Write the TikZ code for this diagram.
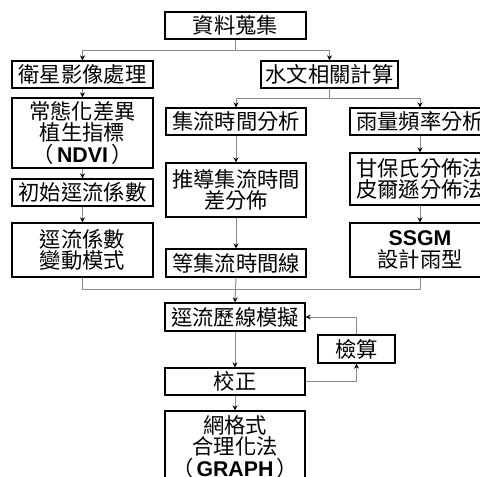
\documentclass[tikz,border=0pt]{standalone}
\usepackage{fontspec}
\setmainfont{Liberation Sans}
\newfontfamily\cjk{Noto Sans CJK TC}
\newfontfamily\latb{Liberation Sans}
\usetikzlibrary{arrows.meta}
\tikzset{
  box/.style={draw=black, line width=1.3pt, fill=white, align=center, inner sep=0pt,
    font=\cjk\fontsize{21.3}{21.3}\selectfont},
  link/.style={draw=black!45, line width=1pt},
  arr/.style={link, -{Stealth[length=5pt,width=5pt,black]}}
}
\newcommand{\bt}[1]{{\latb\bfseries #1}}
\begin{document}
\begin{tikzpicture}[x=1pt,y=-1pt]
\useasboundingbox (0,0) rectangle (480,477);
\fill[white] (0,0) rectangle (480,477);
\clip (0,0) rectangle (480,477);

% boxes
\node[box, minimum width=141pt, minimum height=27pt] (top)   at (235.5,25.5) {資料蒐集};
\node[box, minimum width=141pt, minimum height=27pt] (sat)   at (82.5,74.5)  {衛星影像處理};
\node[box, minimum width=137pt, minimum height=27pt] (hyd)   at (329.5,74.5) {水文相關計算};
\node[box, minimum width=141pt, minimum height=70pt] (ndvi)  at (82.5,133)   {常態化差異\\植生指標\\（\hspace{0.15em}\bt{NDVI}\hspace{0.15em}）};
\node[box, minimum width=140pt, minimum height=27pt] (conc)  at (236,121.5)  {集流時間分析};
\node[box, minimum width=140pt, minimum height=27pt] (rain)  at (420,121.5)  {雨量頻率分析};
\node[box, minimum width=141pt, minimum height=27pt] (init)  at (82.5,192.5) {初始逕流係數};
\node[box, minimum width=140pt, minimum height=54pt] (deriv) at (236,190)    {推導集流時間\\差分佈};
\node[box, minimum width=140pt, minimum height=52pt] (gumb)  at (420,179)    {甘保氏分佈法\\皮爾遜分佈法};
\node[box, minimum width=141pt, minimum height=54pt] (vary)  at (82.5,250)   {逕流係數\\變動模式};
\node[box, minimum width=140pt, minimum height=28pt] (iso)   at (236,263)    {等集流時間線};
\node[box, minimum width=140pt, minimum height=54pt] (ssgm)  at (420,250)    {\bt{SSGM}\\設計雨型};
\node[box, minimum width=140pt, minimum height=28pt] (sim)   at (235,317)    {逕流歷線模擬};
\node[box, minimum width=77pt,  minimum height=28pt] (check) at (356.5,349)  {檢算};
\node[box, minimum width=140pt, minimum height=27pt] (calib) at (235,381.5)  {校正};
\node[box, minimum width=140pt, minimum height=72pt] (graph) at (235,447)    {網格式\\合理化法\\（\hspace{0.15em}\bt{GRAPH}\hspace{0.15em}）};

% junction points
\coordinate (j1) at (235.5,50);
\coordinate (j2) at (329.5,98);
\coordinate (j3) at (236,289);

% connectors
\draw[link] (top.south) -- (j1);
\draw[arr] (j1) -| (sat.north);
\draw[arr] (j1) -| (hyd.north);
\draw[link] (hyd.south) -- (j2);
\draw[arr] (j2) -| (conc.north);
\draw[arr] (j2) -| (rain.north);

\draw[arr] (sat) -- (ndvi);
\draw[arr] (ndvi) -- (init);
\draw[arr] (init) -- (vary);
\draw[arr] (conc) -- (deriv);
\draw[arr] (deriv) -- (iso);
\draw[arr] (rain) -- (gumb);
\draw[arr] (gumb) -- (ssgm);

\draw[link] (vary.south) |- (j3);
\draw[link] (ssgm.south) |- (j3);
\draw[arr] (iso.south) -- (sim.north);
\draw[arr] (sim) -- (calib);
\draw[arr] (calib) -- (graph);
\draw[arr] (calib.east) -| (check.south);
\draw[arr] (check.north) |- (sim.east);
\end{tikzpicture}
\end{document}
